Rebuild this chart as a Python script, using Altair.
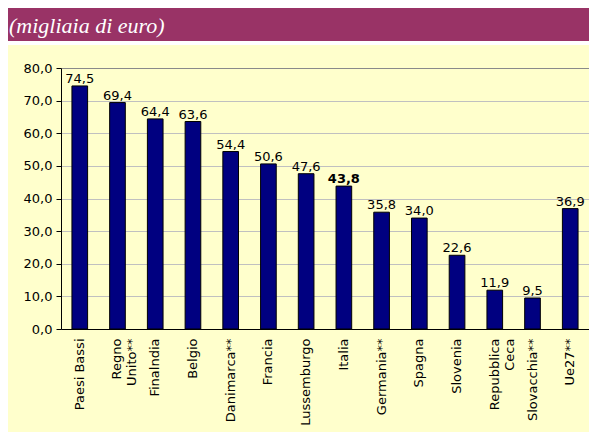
import altair as alt
import pandas as pd

countries = ["Paesi Bassi", "Regno Unito**", "Finalndia", "Belgio", "Danimarca**",
             "Francia", "Lussemburgo", "Italia", "Germania**", "Spagna", "Slovenia",
             "Repubblica Ceca", "Slovacchia**", "Ue27**"]
values = [74.5, 69.4, 64.4, 63.6, 54.4, 50.6, 47.6, 43.8, 35.8, 34.0, 22.6, 11.9, 9.5, 36.9]
y_ticks = [0, 10, 20, 30, 40, 50, 60, 70, 80]
subtitle = "(migliaia di euro)"
highlight = "Italia"

df = pd.DataFrame({"paese": countries, "valore": values})

W, H = 528, 261
FONT = "DejaVu Sans"

x_enc = alt.X("paese:N", sort=countries, title=None,
              scale=alt.Scale(paddingInner=0.585, paddingOuter=0.29),
              axis=alt.Axis(labelAngle=-90, labelAlign="right", labelBaseline="middle",
                            ticks=False, domainColor="black", labelColor="black",
                            labelFont=FONT, labelFontSize=13, labelPadding=9,
                            labelExpr="datum.label == 'Regno Unito**' ? ['Regno','Unito**'] : datum.label == 'Repubblica Ceca' ? ['Repubblica','Ceca'] : datum.label"))
y_enc = alt.Y("valore:Q", title=None,
              scale=alt.Scale(domain=[0, 80], nice=False),
              axis=alt.Axis(values=y_ticks, labelOverlap=False,
                            labelExpr="replace(format(datum.value, '.1f'), '.', ',')",
                            domainColor="black", tickColor="black", tickSize=5,
                            labelFont=FONT, labelFontSize=13, labelColor="black", labelPadding=4,
                            gridColor={"condition": {"test": "datum.value >= 80", "value": "#8a8a8a"}, "value": "#c0c0c0"}))

base = alt.Chart(df)

bars = base.mark_bar(color="#000080", stroke="black", strokeWidth=1).encode(x=x_enc, y=y_enc)

labels = base.transform_filter(alt.datum.paese != highlight).transform_calculate(
    lab="replace(format(datum.valore, '.1f'), '.', ',')"
).mark_text(font=FONT, fontSize=13, color="black", baseline="alphabetic", dy=-3).encode(
    x=x_enc, y=y_enc, text="lab:N")

labels_b = base.transform_filter(alt.datum.paese == highlight).transform_calculate(
    lab="replace(format(datum.valore, '.1f'), '.', ',')"
).mark_text(font=FONT, fontSize=13, fontWeight="bold", color="black", baseline="alphabetic", dy=-3).encode(
    x=x_enc, y=y_enc, text="lab:N")

header = alt.Chart(pd.DataFrame({"t": [subtitle]})).mark_rect(color="#993366").encode(
    x=alt.value(-53), x2=alt.value(W + 10), y=alt.value(-60), y2=alt.value(-27))
strip = alt.Chart(pd.DataFrame({"t": [subtitle]})).mark_rect(color="white").encode(
    x=alt.value(-53), x2=alt.value(W + 10), y=alt.value(-27), y2=alt.value(-23))
head_text = alt.Chart(pd.DataFrame({"t": [subtitle]})).mark_text(
    font="Liberation Serif", fontStyle="italic", fontSize=22, color="white",
    align="left", baseline="alphabetic").encode(
    x=alt.value(-52), y=alt.value(-35), text="t:N")

chart = alt.layer(header, strip, head_text, bars, labels, labels_b).properties(
    width=W, height=H,
    background="#FFFFCC",
    padding={"left": 53, "top": 60, "right": 0, "bottom": 103},
    autosize=alt.AutoSizeParams(type="none"),
).configure_view(stroke=None)

chart.save("out.html", embed_options={"renderer": "svg", "actions": False})
